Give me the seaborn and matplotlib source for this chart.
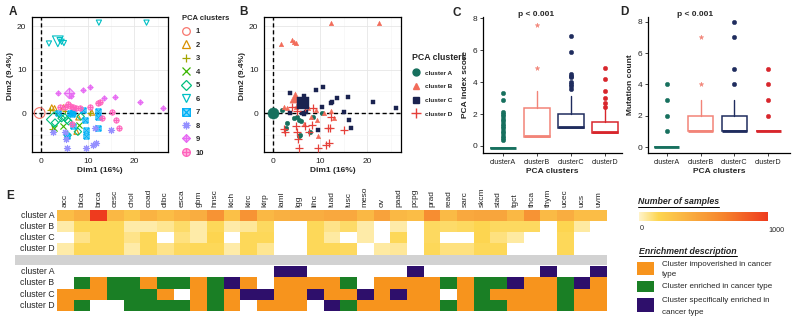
import numpy as np
import pandas as pd
import matplotlib
matplotlib.use("Agg")
import matplotlib.pyplot as plt
import seaborn as sns
from matplotlib.path import Path
from matplotlib.lines import Line2D
from matplotlib.patches import Rectangle
from matplotlib.colors import LinearSegmentedColormap, ListedColormap, to_rgba

sns.set_style("white")
plt.rcParams['font.family'] = ['Liberation Sans', 'DejaVu Sans']

W, H = 794, 319

# ---------------- data ----------------
# PCA coordinates of cancer-type subgroups, with 10-cluster and 4-cluster labels
dim1 = [1.7, 4.0, 4.4, 4.9, 12.4, 22.6,
        3.6, 9.1, 10.6, 13.5, 15.9, 21.2, 26.2, 6.5,
        4.1, 5.1, 5.7, 6.2, 6.8, 7.4, 8.4, 10.5, 12.3, 12.6, 15.1, 16.1, 16.6, 6.6, 13.0,
        2.3, 2.9, 4.8, 7.6, 10.9, 8.0,
        1.9, 5.1, 10.4, 2.4,
        4.8, 8.2, 2.8,
        3.0, 5.1, 5.6, 8.5, 5.7, 4.4, 7.9, 5.9,
        3.7, 6.2, 6.9, 9.1, 12.3, 12.3, 9.4, 9.6, 12.1, 6.8, 5.6, 9.6, 6.6,
        2.6, 5.1, 5.6, 9.6, 11.2, 11.8, 15.0, 11.6, 5.3]
dim2 = [16.0, 16.8, 16.4, 16.1, 20.8, 20.8,
        4.6, 5.3, 5.9, 3.4, 3.8, 2.5, 1.2, 4.0,
        1.3, 1.4, 2.1, 1.6, 1.3, 1.1, 1.2, 1.5, 2.2, 2.6, 0.3, -1.6, -3.5, -2.5, -1.2,
        1.3, 1.1, 1.3, -4.3, 0.1, -1.0,
        0.8, 0.5, -0.1, -3.6,
        -3.1, -2.8, -3.5,
        -2.2, -1.0, -1.6, -0.8, -5.1, -1.2, -4.3, -1.9,
        0.1, 0.1, 0.3, 0.7, 0.5, -0.8, -1.6, -3.9, -3.4, -3.1, -5.3, -5.4, -0.2,
        -4.3, -4.4, -8.1, -8.1, -7.4, -7.0, -3.8, -3.4, -6.0]
clus10 = [6, 6, 6, 6, 6, 6,
          9, 9, 9, 9, 9, 9, 9, 9,
          10, 10, 10, 10, 10, 10, 10, 10, 10, 10, 10, 10, 10, 10, 10,
          2, 2, 2, 2, 2, 2,
          3, 3, 3, 3,
          4, 4, 4,
          5, 5, 5, 5, 5, 5, 5, 5,
          7, 7, 7, 7, 7, 7, 7, 7, 7, 7, 7, 7, 7,
          8, 8, 8, 8, 8, 8, 8, 8, 8]
clus4 = ['B', 'B', 'B', 'B', 'B', 'B',
         'C', 'C', 'C', 'C', 'C', 'C', 'C', 'C',
         'D', 'D', 'D', 'C', 'D', 'B', 'D', 'C', 'C', 'C', 'C', 'C', 'C', 'B', 'B',
         'B', 'B', 'B', 'D', 'B', 'B',
         'A', 'D', 'A', 'D',
         'D', 'D', 'A',
         'A', 'A', 'A', 'A', 'A', 'A', 'A', 'A',
         'C', 'C', 'C', 'B', 'B', 'D', 'B', 'C', 'D', 'D', 'A', 'B', 'C',
         'D', 'D', 'D', 'D', 'D', 'D', 'D', 'D', 'D']
# cluster centres (drawn larger)
centA_clus = [1, 6, 9, 5]
centA_x = [-0.3, 3.6, 6.1, 2.8]
centA_y = [0.0, 16.5, 4.5, -1.5]
centB_clus = ['A', 'B', 'C']
centB_x = [0.0, 4.7, 6.4]
centB_y = [0.0, 3.6, 2.4]

# panel C: PCA index score box statistics
groups = ['clusterA', 'clusterB', 'clusterC', 'clusterD']
pca_q1 = [-0.1, 0.58, 1.15, 0.8]
pca_med = [-0.1, 0.6, 1.2, 0.86]
pca_q3 = [-0.1, 2.35, 2.0, 1.5]
pca_lo = [-0.1, 0.58, 1.15, 0.8]
pca_hi = [-0.1, 3.45, 3.1, 2.3]
pca_out = [[0.4, 0.5, 0.65, 0.8, 0.95, 1.1, 1.25, 1.4, 1.55, 1.7, 1.85, 2.0, 2.15, 2.85, 3.35],
           [4.9, 7.6],
           [3.6, 3.75, 3.9, 4.0, 4.3, 4.4, 4.5, 5.9, 6.9],
           [2.45, 2.7, 3.0, 3.45, 4.2, 4.9]]
# panel D: mutation count box statistics
mut_q1 = [0, 1, 1, 1]
mut_med = [0, 1, 1, 1]
mut_q3 = [0, 2, 2, 1]
mut_lo = [0, 1, 1, 1]
mut_hi = [0, 3, 3, 1]
mut_out = [[1, 2, 3, 4], [4, 7], [4, 5, 7, 8], [2, 3, 4, 5]]

# panel E
cancers = ['acc', 'blca', 'brca', 'cesc', 'chol', 'coad', 'dlbc', 'esca', 'gbm', 'hnsc', 'kich',
           'kirc', 'kirp', 'laml', 'lgg', 'lihc', 'luad', 'lusc', 'meso', 'ov', 'paad', 'pcpg',
           'prad', 'read', 'sarc', 'skcm', 'stad', 'tgct', 'thca', 'thym', 'ucec', 'ucs', 'uvm']
rows = ['cluster A', 'cluster B', 'cluster C', 'cluster D']
n_A = [300, 380, 1000, 330, 250, 360, 300, 360, 400, 560, 280, 560, 330, 380, 400, 400, 430,
       430, 330, 470, 330, 300, 600, 320, 430, 450, 450, 330, 560, 320, 400, 300, 300]
n_B = [40, 140, 140, 140, 40, 40, 70, 120, 40, 140, 40, 60, 130, 0, 0, 140, 80,
       120, 40, 0, 40, 0, 130, 120, 130, 150, 130, 130, 130, 0, 150, 50, 0]
n_C = [0, 80, 140, 140, 80, 140, 0, 90, 40, 150, 0, 140, 140, 0, 0, 140, 50,
       0, 40, 0, 140, 0, 130, 0, 0, 150, 90, 50, 0, 0, 140, 0, 0]
n_D = [40, 140, 140, 140, 40, 140, 80, 130, 140, 140, 40, 140, 70, 0, 0, 140, 140,
       130, 0, 50, 60, 0, 140, 90, 90, 140, 140, 0, 0, 0, 140, 0, 0]
# 0 none, 1 impoverished, 2 enriched, 3 specifically enriched
enr_A = [0, 0, 0, 0, 0, 0, 0, 0, 0, 0, 0, 0, 0, 3, 3, 0, 0, 0, 0, 0, 0, 3, 0, 0, 0, 0, 0, 0, 0, 3, 0, 0, 3]
enr_B = [0, 2, 1, 2, 2, 1, 2, 2, 1, 2, 3, 1, 0, 1, 1, 1, 1, 2, 0, 1, 1, 1, 1, 2, 1, 2, 2, 3, 1, 1, 2, 3, 1]
enr_C = [1, 1, 1, 2, 2, 2, 1, 0, 1, 2, 1, 3, 3, 1, 1, 3, 1, 1, 3, 1, 3, 1, 1, 0, 1, 2, 1, 1, 1, 1, 2, 1, 1]
enr_D = [1, 2, 0, 0, 2, 2, 2, 2, 1, 2, 1, 0, 1, 1, 1, 0, 3, 2, 1, 1, 1, 1, 1, 2, 1, 2, 2, 1, 1, 1, 2, 1, 1]

# ---------------- helpers ----------------
fig = plt.figure(figsize=(W / 100, H / 100), dpi=100)


def box(l, t, r, b):
    return [l / W, 1 - b / H, (r - l) / W, (b - t) / H]


def ftext(x, y, s, **kw):
    return fig.text(x / W, 1 - y / H, s, **kw)


def compound(*parts):
    verts, codes = [], []
    for p in parts:
        verts += list(p)
        codes += [Path.MOVETO] + [Path.LINETO] * (len(p) - 1)
    return Path(verts, codes)


sq_cross = compound([(-1, -1), (1, -1), (1, 1), (-1, 1), (-1, -1)], [(-1, -1), (1, 1)], [(-1, 1), (1, -1)])
dia_plus = compound([(0, -1), (1, 0), (0, 1), (-1, 0), (0, -1)], [(0, -1), (0, 1)], [(-1, 0), (1, 0)])
th = np.linspace(0, 2 * np.pi, 33)
circ_plus = compound(list(zip(np.cos(th), np.sin(th))), [(0, -1), (0, 1)], [(-1, 0), (1, 0)])

pal10 = ['#F8766D', '#D89000', '#A3A500', '#39B600', '#00BF7D',
         '#00BFC4', '#00B0F6', '#9590FF', '#E76BF3', '#FF62BC']
mk10 = ['o', '^', '+', 'x', 'D', 'v', sq_cross, (8, 2, 0), dia_plus, circ_plus]
fill10 = ['none', 'none', None, None, 'none', 'none', 'half', None, 'half', 'half']

col4 = {'A': '#17705E', 'B': '#F26C5A', 'C': '#1A2350', 'D': '#E5403A'}
mk4 = {'A': 'o', 'B': '^', 'C': 's', 'D': '+'}

df = pd.DataFrame({'dim1': dim1, 'dim2': dim2, 'c10': clus10, 'c4': clus4})


def style_pca(ax):
    ax.set_xlim(-1.93, 27.2)
    ax.set_ylim(-8.97, 22.1)
    ax.set_xticks([0, 10, 20])
    ax.set_yticks([0, 10, 20])
    ax.set_xticks([5, 15, 25], minor=True)
    ax.set_yticks([-5, 5, 15], minor=True)
    ax.grid(True, which='major', color='#E6E6E6', lw=0.6)
    ax.grid(True, which='minor', color='#F3F3F3', lw=0.4)
    ax.set_axisbelow(True)
    for s in ax.spines.values():
        s.set_color('black')
        s.set_linewidth(0.9)
    ax.tick_params(which='major', length=2.5, width=0.6, labelsize=6, colors='#222222', pad=1.5)
    ax.tick_params(which='minor', length=0)
    ax.axhline(0, color='black', lw=1.0, ls=(0, (3, 2)), zorder=1.5)
    ax.axvline(0, color='black', lw=1.0, ls=(0, (3, 2)), zorder=1.5)
    ax.set_xlabel('Dim1 (16%)', fontsize=6, fontweight='bold', labelpad=2)
    ax.set_ylabel('Dim2 (9.4%)', fontsize=6, fontweight='bold')
    ax.yaxis.set_label_coords(-0.13, 0.56)


def kw10(i, size):
    c = pal10[i]
    f = fill10[i]
    if f is None:
        return dict(color=c, s=size * 1.4, linewidth=0.8)
    if f == 'none':
        return dict(color=c, facecolor='none', edgecolor=c, s=size, linewidth=0.8)
    return dict(color=c, facecolor=to_rgba(c, 0.45), edgecolor=c, s=size, linewidth=0.7)


# ---------------- panel A ----------------
axA = fig.add_axes(box(32, 17, 168, 152))
for i in range(10):
    sub = df[df.c10 == i + 1]
    if len(sub):
        sns.scatterplot(data=sub, x='dim1', y='dim2', ax=axA, marker=mk10[i], legend=False,
                        zorder=3, **kw10(i, 14))
for c, x, y in zip(centA_clus, centA_x, centA_y):
    sns.scatterplot(x=[x], y=[y], ax=axA, marker=mk10[c - 1], legend=False, zorder=3, **kw10(c - 1, 60))
style_pca(axA)

hA = []
for i in range(10):
    f = fill10[i]
    fc = pal10[i] if f is None else ('none' if f == 'none' else to_rgba(pal10[i], 0.45))
    hA.append(Line2D([], [], marker=mk10[i], ls='', color=pal10[i], markerfacecolor=fc,
                     markeredgecolor=pal10[i], markersize=5.5, markeredgewidth=0.9))
axA.legend(hA, [str(i + 1) for i in range(10)], loc='upper left', bbox_to_anchor=(182 / W, 1 - 15 / H),
           bbox_transform=fig.transFigure, frameon=False, borderpad=0, borderaxespad=0,
           handlelength=1.0, handletextpad=0.8, labelspacing=0.8, alignment='left',
           title='PCA clusters', prop={'size': 5.5, 'weight': 'bold'},
           title_fontproperties={'size': 5.5, 'weight': 'bold'})

# ---------------- panel B ----------------
axB = fig.add_axes(box(264, 17, 401, 152))
for k in ['A', 'B', 'C', 'D']:
    sub = df[df.c4 == k]
    if k == 'D':
        kws = dict(color=col4[k], s=34, linewidth=0.9)
    else:
        kws = dict(color=col4[k], edgecolor=col4[k], s=11, linewidth=0.3)
    sns.scatterplot(data=sub, x='dim1', y='dim2', ax=axB, marker=mk4[k], legend=False, zorder=3, **kws)
for c, x, y in zip(centB_clus, centB_x, centB_y):
    sns.scatterplot(x=[x], y=[y], ax=axB, marker=mk4[c], color=col4[c], edgecolor=col4[c],
                    s=65, linewidth=0.3, legend=False, zorder=3)
style_pca(axB)

hB = [Line2D([], [], marker=mk4[k], ls='', color=col4[k], markersize=5 if k != 'D' else 7,
             markeredgewidth=1.0) for k in ['A', 'B', 'C', 'D']]
axB.legend(hB, rows, loc='upper left', bbox_to_anchor=(412 / W, 1 - 53 / H),
           bbox_transform=fig.transFigure, frameon=False, borderpad=0, borderaxespad=0,
           handlelength=1.2, handletextpad=0.9, labelspacing=1.28, alignment='left',
           title='PCA clusters', prop={'size': 4.6, 'weight': 'bold'},
           title_fontproperties={'size': 6.3, 'weight': 'bold'})

# ---------------- panels C and D ----------------
box_cols = ['#17705E', '#F28478', '#1F2C5E', '#D8262C']
flier_mk = ['o', '*', 'o', 'o']


def draw_box(ax, q1, med, q3, lo, hi, out, xlim, ylim, ylab):
    stats = [dict(q1=q1[i], med=med[i], q3=q3[i], whislo=lo[i], whishi=hi[i], fliers=out[i])
             for i in range(4)]
    art = ax.bxp(stats, positions=range(4), widths=0.74, showcaps=False, patch_artist=True,
                 manage_ticks=False)
    for i, c in enumerate(box_cols):
        art['boxes'][i].set(facecolor='white', edgecolor=c, linewidth=1.1)
        art['medians'][i].set(color=c, linewidth=2.0)
        for w in art['whiskers'][2 * i:2 * i + 2]:
            w.set(color=c, linewidth=1.0)
        art['fliers'][i].set(marker=flier_mk[i], markerfacecolor=c, markeredgecolor=c,
                             markersize=3.2 if flier_mk[i] == 'o' else 3.5, markeredgewidth=0.3)
    ax.set_xticks(range(4))
    ax.set_xticklabels(groups)
    ax.set_xlim(*xlim)
    ax.set_ylim(*ylim)
    ax.set_yticks([0, 2, 4, 6, 8])
    sns.despine(ax=ax)
    for s in ['left', 'bottom']:
        ax.spines[s].set_color('black')
        ax.spines[s].set_linewidth(0.9)
    ax.tick_params(length=2.5, width=0.6, labelsize=5.2, colors='#222222', pad=1.5, left=True, bottom=True)
    ax.tick_params(axis='y', labelsize=6)
    ax.set_xlabel('PCA clusters', fontsize=6, fontweight='bold', labelpad=2)
    ax.set_ylabel(ylab, fontsize=6, fontweight='bold', labelpad=3)


axC = fig.add_axes(box(483, 17, 622, 153))
draw_box(axC, pca_q1, pca_med, pca_q3, pca_lo, pca_hi, pca_out, (-0.59, 3.5), (-0.44, 8.08),
         'PCA index score')
axD = fig.add_axes(box(648, 17, 790, 153))
draw_box(axD, mut_q1, mut_med, mut_q3, mut_lo, mut_hi, mut_out, (-0.56, 3.65), (-0.38, 8.3),
         'Mutation count')
ftext(536, 15, 'p < 0.001', fontsize=6, fontweight='bold', ha='center', va='center')
ftext(695, 14, 'p < 0.001', fontsize=6, fontweight='bold', ha='center', va='center')

# ---------------- panel E ----------------
cmap_n = LinearSegmentedColormap.from_list(
    'ns', [(0, '#FFF3C8'), (0.15, '#FDD54F'), (0.4, '#F9AD40'), (0.65, '#F6852D'), (1, '#EE3B1E')])
top = pd.DataFrame([n_A, n_B, n_C, n_D], index=rows, columns=cancers)
axE1 = fig.add_axes(box(57, 210, 607, 254.5))
sns.heatmap(top, ax=axE1, cmap=cmap_n, vmin=0, vmax=1000, mask=top.eq(0), cbar=False,
            xticklabels=True, yticklabels=True)
axE1.xaxis.tick_top()
axE1.set_xticklabels(cancers, rotation=90, fontsize=6)
axE1.set_yticklabels(rows, rotation=0, fontsize=6.3)
axE1.tick_params(length=0, pad=2)
axE1.set_xlabel('')
axE1.set_ylabel('')

fig.add_artist(Rectangle((15 / W, 1 - 265 / H), (607 - 15) / W, 10 / H, transform=fig.transFigure,
                         facecolor='#D2D2D2', edgecolor='none'))

enr_cols = ['#F7941D', '#1A7F25', '#2E0F6B']
bot = pd.DataFrame([enr_A, enr_B, enr_C, enr_D], index=rows, columns=cancers)
axE2 = fig.add_axes(box(57, 266, 607, 311))
sns.heatmap(bot, ax=axE2, cmap=ListedColormap(enr_cols), vmin=0.5, vmax=3.5, mask=bot.eq(0),
            cbar=False, xticklabels=False, yticklabels=True)
axE2.set_yticklabels(rows, rotation=0, fontsize=6.3)
axE2.tick_params(length=0, pad=2)
axE2.set_xlabel('')
axE2.set_ylabel('')

# legend for panel E
cax = fig.add_axes(box(639, 212, 768, 221))
cb = fig.colorbar(axE1.collections[0], cax=cax, orientation='horizontal')
cb.outline.set_visible(False)
cax.set_xticks([])
ftext(640, 228, '0', fontsize=5.2, ha='left', va='center')
ftext(768, 230, '1000', fontsize=5.2, ha='left', va='center')

h1 = ftext(638, 202, 'Number of samples', fontsize=6.3, fontweight='bold', style='italic', va='center')
h2 = ftext(639, 251, 'Enrichment description', fontsize=6.3, fontweight='bold', style='italic',
           va='center')
sw = [(262, 275), (281, 292), (298, 312)]
for (t, b), c in zip(sw, enr_cols):
    fig.add_artist(Rectangle((637 / W, 1 - b / H), 17 / W, (b - t) / H, transform=fig.transFigure,
                             facecolor=c, edgecolor='none'))
ftext(662, 264, 'Cluster impoverished in cancer', fontsize=5.8, va='center')
ftext(662, 275, 'type', fontsize=5.8, va='center')
ftext(662, 287, 'Cluster enriched in cancer type', fontsize=5.8, va='center')
ftext(662, 301, 'Cluster specifically enriched in', fontsize=5.8, va='center')
ftext(662, 312, 'cancer type', fontsize=5.8, va='center')

# panel letters
for lab, x, y in [('A', 13, 12), ('B', 244, 12), ('C', 457, 13), ('D', 624, 12), ('E', 10, 196)]:
    ftext(x, y, lab, fontsize=8.5, fontweight='bold', ha='center', va='center')

# underline the two legend headings
fig.canvas.draw()
rend = fig.canvas.get_renderer()
for t in [h1, h2]:
    bb = t.get_window_extent(rend)
    fig.add_artist(Line2D([bb.x0 / W, bb.x1 / W], [(bb.y0 - 0.5) / H, (bb.y0 - 0.5) / H],
                          transform=fig.transFigure, color='black', lw=0.7))

fig.savefig('out.png', dpi=100)
